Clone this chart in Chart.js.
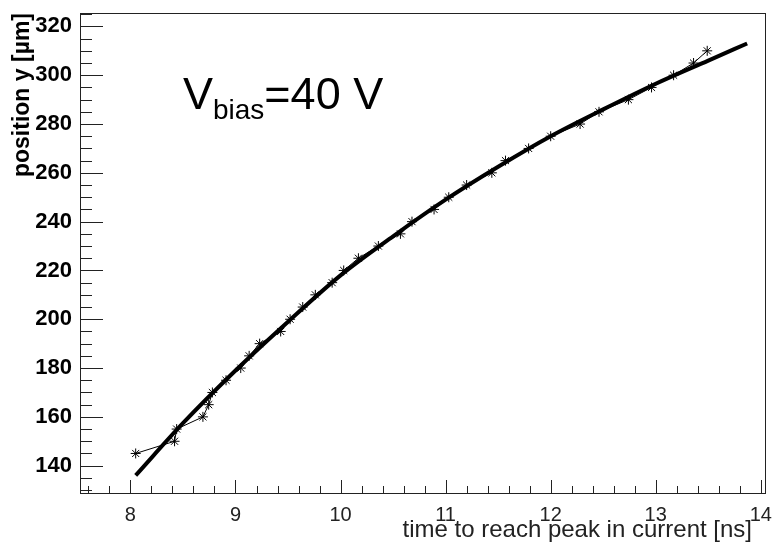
<!DOCTYPE html>
<html>
<head>
<meta charset="utf-8">
<script src="https://cdn.jsdelivr.net/npm/chart.js@4/dist/chart.umd.min.js"></script>
<style>
  html, body { margin: 0; padding: 0; background: #fff; }
  #wrap { width: 779px; height: 549px; }
</style>
</head>
<body>
<div id="wrap"><canvas id="canvas" width="779" height="549"></canvas></div>
<script>
// measured points: position y [um] vs time to reach peak [ns]
const posY = [145, 150, 155, 160, 165, 170, 175, 180, 185, 190, 195, 200, 205, 210, 215, 220, 225,
              230, 235, 240, 245, 250, 255, 260, 265, 270, 275, 280, 285, 290, 295, 300, 305, 310];
const peakTime = [8.05, 8.42, 8.44, 8.69, 8.745, 8.78, 8.91, 9.05, 9.13, 9.23, 9.43, 9.52, 9.64, 9.76, 9.92, 10.03, 10.17,
                  10.36, 10.57, 10.68, 10.89, 11.03, 11.20, 11.44, 11.57, 11.79, 12.00, 12.28, 12.46, 12.74, 12.96, 13.17, 13.36, 13.49];

// fitted curve
const fitX = [8.05, 8.5, 9.0, 9.5, 10.0, 10.5, 11.0, 11.5, 12.0, 12.5, 13.0, 13.5, 13.87];
const fitY = [136, 157.4, 179, 199, 218, 234, 249, 262.5, 275, 286, 296.5, 306, 313];

const xTicks = [8, 9, 10, 11, 12, 13, 14];
const yTicks = [140, 160, 180, 200, 220, 240, 260, 280, 300, 320];
const xTitle = 'time to reach peak in current [ns]';
const yTitle = 'position y [µm]';

let measured = [];
for (let i = 0; i < posY.length; i++) {
    measured.push({x: peakTime[i], y: posY[i]});
}
let fit = [];
for (let i = 0; i < fitX.length; i++) {
    fit.push({x: fitX[i], y: fitY[i]});
}

const FONT = "'Liberation Sans', Arial, sans-serif";

// ROOT-like frame with inward major/minor ticks, x title and the V_bias label
const framePlugin = {
    id: 'frame',
    afterDraw(chart) {
        const ctx = chart.ctx;
        const a = chart.chartArea;
        const xs = chart.scales.x;
        const ys = chart.scales.y;
        ctx.save();
        ctx.strokeStyle = '#222';
        ctx.lineWidth = 1;
        ctx.strokeRect(Math.round(a.left) + 0.5, Math.round(a.top) + 0.5,
                       Math.round(a.right - a.left), Math.round(a.bottom - a.top));

        ctx.beginPath();
        for (let i = 38; i <= 70; i++) {
            const v = i / 5;
            if (v < xs.min || v > xs.max) continue;
            const px = Math.round(xs.getPixelForValue(v)) + 0.5;
            const len = (i % 5 === 0) ? 13 : 7;
            ctx.moveTo(px, a.bottom);
            ctx.lineTo(px, a.bottom - len);
        }
        for (let v = 130; v <= 325; v += 5) {
            if (v < ys.min || v > ys.max) continue;
            const py = Math.round(ys.getPixelForValue(v)) + 0.5;
            const len = (v % 20 === 0) ? 23 : 12;
            ctx.moveTo(a.left, py);
            ctx.lineTo(a.left + len, py);
        }
        ctx.stroke();

        // x axis title, right aligned a little inside the frame
        ctx.fillStyle = '#222';
        ctx.font = '24px ' + FONT;
        ctx.textAlign = 'right';
        ctx.textBaseline = 'middle';
        ctx.fillText(xTitle, a.right - 13, a.bottom + 37);

        // V_bias = 40 V
        let tx = xs.getPixelForValue(8.5);
        const ty = ys.getPixelForValue(286.3);
        ctx.fillStyle = '#000';
        ctx.textBaseline = 'alphabetic';
        ctx.textAlign = 'left';
        ctx.font = '45px ' + FONT;
        ctx.fillText('V', tx, ty);
        tx += ctx.measureText('V').width;
        ctx.font = '28px ' + FONT;
        ctx.fillText('bias', tx, ty + 10);
        tx += ctx.measureText('bias').width;
        ctx.font = '45px ' + FONT;
        ctx.fillText('=40 V', tx, ty);
        ctx.restore();
    }
};

let ctx = document.getElementById('canvas').getContext('2d');

let chart = new Chart(ctx, {
    type: 'scatter',
    data: {
        datasets: [{
            label: 'fit',
            data: fit,
            showLine: true,
            borderColor: '#000',
            borderWidth: 4,
            pointRadius: 0,
            cubicInterpolationMode: 'monotone',
            fill: false
        }, {
            label: 'data',
            data: measured,
            showLine: true,
            borderColor: '#000',
            borderWidth: 1,
            pointStyle: 'star',
            pointRadius: 5,
            pointBorderWidth: 1,
            pointBorderColor: '#000',
            pointBackgroundColor: '#000',
            fill: false
        }]
    },
    options: {
        responsive: false,
        animation: false,
        layout: { padding: { top: 13, right: 14, left: 0, bottom: 0 } },
        plugins: {
            legend: { display: false },
            tooltip: { enabled: false }
        },
        scales: {
            x: {
                type: 'linear',
                min: 7.52,
                max: 14.04,
                grid: { display: false, drawTicks: false },
                border: { display: false },
                ticks: {
                    stepSize: 1,
                    includeBounds: false,
                    autoSkip: false,
                    maxRotation: 0,
                    padding: 10,
                    color: '#222',
                    font: { family: FONT, size: 20 },
                    callback: (v) => xTicks.includes(v) ? String(v) : ''
                },
                afterFit: (scale) => {
                    scale.height = 56;
                    scale.paddingLeft = 0;
                    scale.paddingRight = 0;
                }
            },
            y: {
                type: 'linear',
                min: 128.8,
                max: 325.5,
                grid: { display: false, drawTicks: false },
                border: { display: false },
                ticks: {
                    stepSize: 20,
                    includeBounds: false,
                    autoSkip: false,
                    padding: 8,
                    color: '#000',
                    font: { family: FONT, size: 22, weight: 'bold' },
                    callback: (v) => yTicks.includes(v) ? String(v) : ''
                },
                title: {
                    display: true,
                    text: yTitle,
                    align: 'end',
                    color: '#000',
                    font: { family: FONT, size: 23, weight: 'bold' },
                    padding: { top: 9, bottom: 0 }
                },
                afterFit: (scale) => {
                    scale.width = 80;
                    scale.paddingTop = 0;
                    scale.paddingBottom = 0;
                }
            }
        }
    },
    plugins: [framePlugin]
});
</script>
</body>
</html>
